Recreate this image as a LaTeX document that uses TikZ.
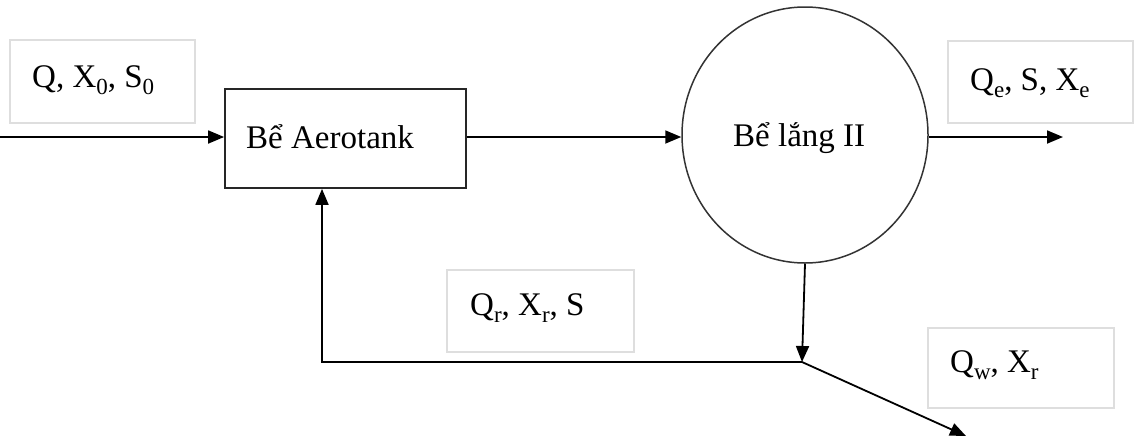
\documentclass[tikz,border=0pt]{standalone}
\usepackage{fontspec}
\setmainfont{Liberation Serif}
\usetikzlibrary{arrows.meta,shapes.geometric}
\newcommand\lowsub[1]{\raisebox{-0.24em}{\fontsize{23}{23}\selectfont #1}}
\tikzset{
  lbl/.style={draw=black!13, line width=1.2pt, fill=white, inner sep=0pt},
  txt/.style={anchor=base west, inner sep=0pt, font=\fontsize{33}{38}\selectfont},
  flow/.style={line width=1.8pt, -{Triangle[length=16pt,width=13pt]}},
}
\begin{document}
\begin{tikzpicture}[x=1pt,y=-1pt]
\useasboundingbox (0,0) rectangle (1134,439);
% label boxes
\draw[lbl] (10,40) rectangle (195,123);
\draw[lbl] (948,41) rectangle (1133,123);
\draw[lbl] (447,270) rectangle (634,352);
\draw[lbl] (928,328) rectangle (1114,408);
\node[txt] (l1) at (32,87) {Q, X\lowsub{0}, S\lowsub{0}};
\node[txt] (l2) at (970,90) {Q\lowsub{e}, S, X\lowsub{e}};
\node[txt] (l3) at (470,315) {Q\lowsub{r}, X\lowsub{r}, S};
\node[txt] (l4) at (950,372) {Q\lowsub{w}, X\lowsub{r}};
% main units
\node[draw=black!85, line width=1.8pt, minimum width=241pt, minimum height=99pt, inner sep=0pt] (tank) at (345.5,138.5) {};
\node[txt] (tanktxt) at (246,148) {Bể Aerotank};
\node[draw=black!80, line width=1.5pt, ellipse, minimum width=246pt, minimum height=256pt, inner sep=0pt] (clar) at (805,135) {};
\node[txt] (clartxt) at (733,146) {Bể lắng II};
% coordinates
\coordinate (in) at (0,137);
\coordinate (out) at (1063,137);
\coordinate (j) at (802,362);
\coordinate (corner) at (322,362);
\coordinate (waste) at (966,436);
% connectors
\draw[flow] (in) -- (in -| tank.west);
\draw[flow] (tank.east |- in) -- (clar.west |- in);
\draw[flow] (clar.east |- in) -- (out);
\draw[flow] (clar.south) -- (j);
\draw[flow] (j) -- (corner) -- (corner |- tank.south);
\draw[flow] (j) -- (waste);
\end{tikzpicture}
\end{document}
